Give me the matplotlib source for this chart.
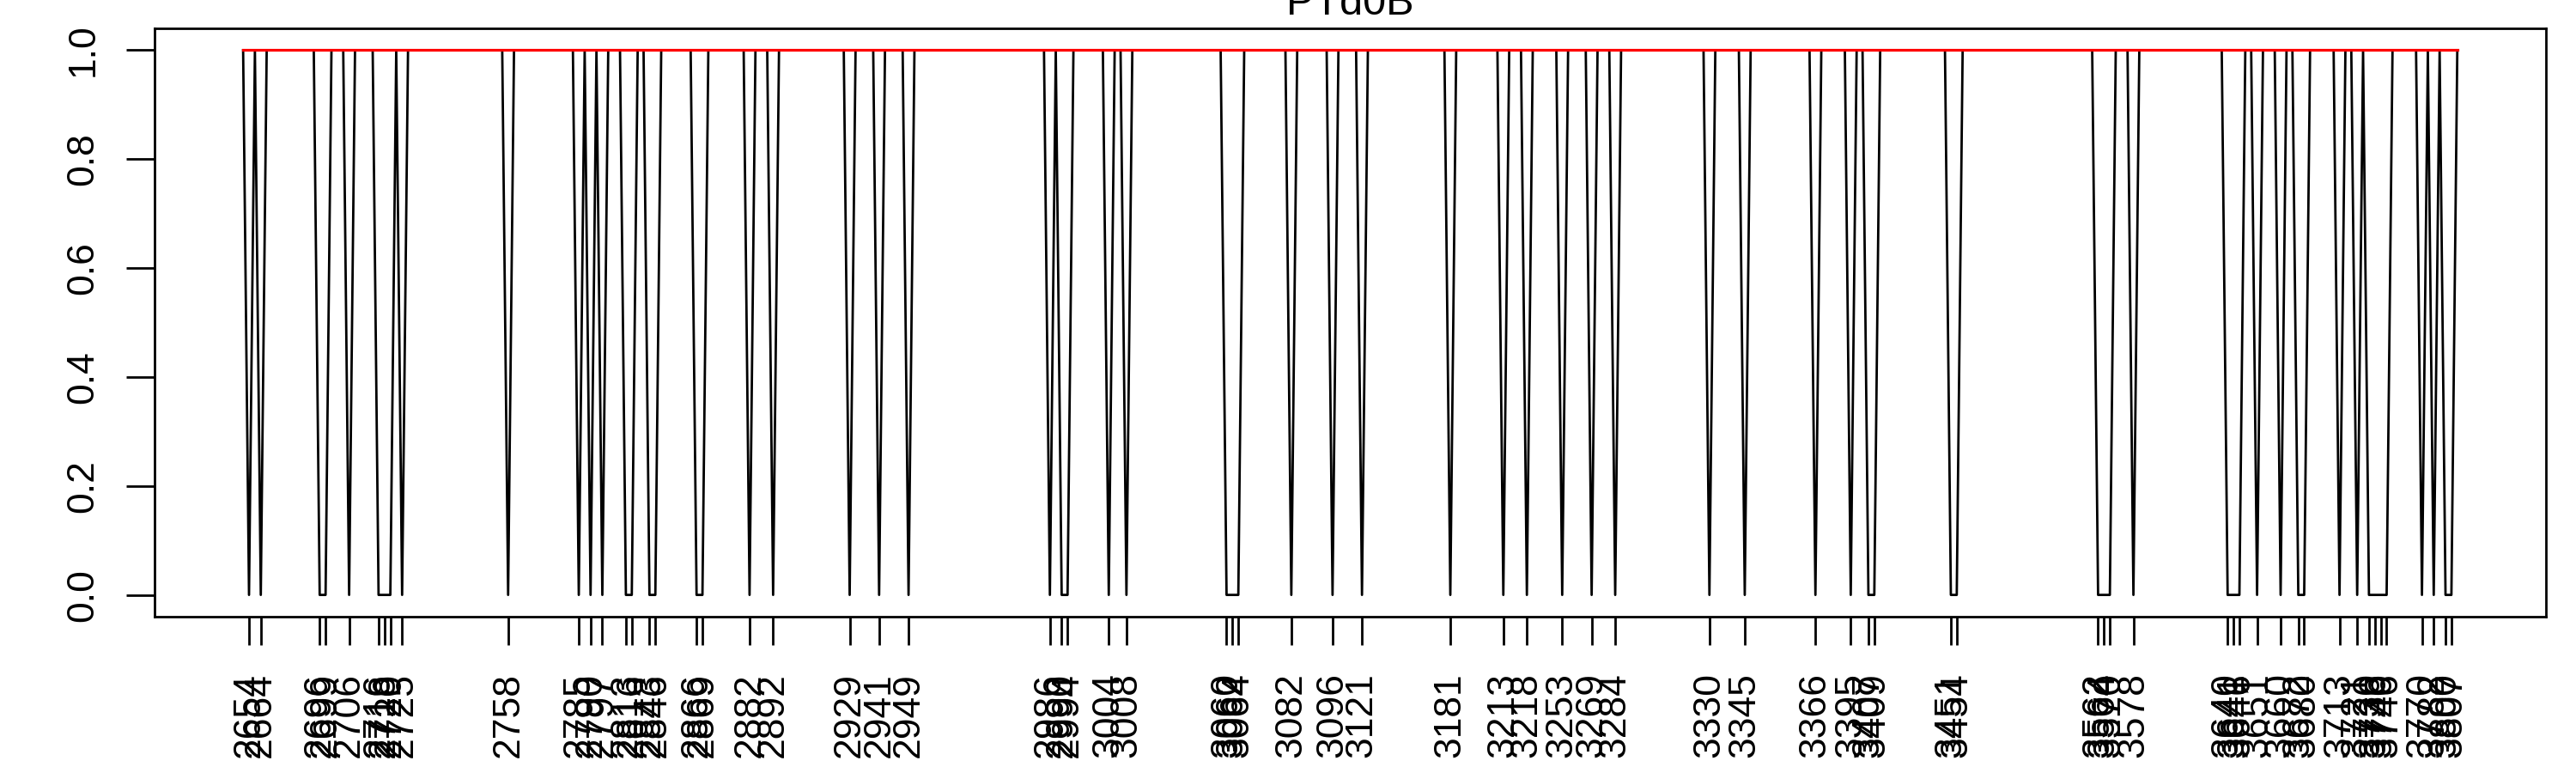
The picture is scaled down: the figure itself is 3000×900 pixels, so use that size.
"""Binary presence track, redrawn in the style of an R base plot."""

import numpy as np
import matplotlib
matplotlib.use('Agg')
import matplotlib.pyplot as plt

# data: the series is 1 everywhere except at the listed (1-based) indices
n_points = 377
zero_idx = [2, 4, 14, 15, 19, 24, 25, 26, 28, 46, 58, 60, 62, 66, 67, 70, 71, 78, 79, 87, 91,
            104, 109, 114, 138, 140, 141, 148, 151, 168, 169, 170, 179, 186, 191,
            206, 215, 219, 225, 230, 234, 250, 256, 268, 274, 277, 278, 291, 292,
            316, 317, 318, 322, 338, 339, 340, 343, 347, 350, 351,
            357, 360, 362, 363, 364, 365, 371, 373, 375, 376]
zero_labels = [2654, 2664, 2696, 2699, 2706, 2716, 2718, 2720, 2725, 2758, 2785, 2790, 2797,
               2813, 2816, 2843, 2846, 2866, 2869, 2882, 2892,
               2929, 2941, 2949, 2986, 2990, 2994, 3004, 3008, 3060, 3062, 3064, 3082, 3096, 3121,
               3181, 3213, 3218, 3253, 3269, 3284, 3330, 3345, 3366, 3395, 3407, 3409, 3451, 3454,
               3562, 3564, 3570, 3578, 3640, 3641, 3646, 3651, 3660, 3672, 3680,
               3713, 3721, 3730, 3736, 3740, 3746, 3770, 3782, 3800, 3807]
y_ticks = [0.0, 0.2, 0.4, 0.6, 0.8, 1.0]
title = 'PTd0B'

values = np.ones(n_points)
values[np.array(zero_idx) - 1] = 0
x = np.arange(1, n_points + 1)

plt.rcParams['font.family'] = ['Liberation Sans', 'DejaVu Sans']

fig = plt.figure(figsize=(30, 9), dpi=100)
ax = fig.add_axes([0.06, 0.2022, 0.9283, 0.7611])

ax.plot(x, values, color='black', lw=2.0)
ax.plot(x, np.ones(n_points), color='red', lw=2.3)

# R style 4% padding
pad_x = 0.04 * (n_points - 1)
ax.set_xlim(1 - pad_x, n_points + pad_x)
ax.set_ylim(-0.04, 1.04)

ax.set_xticks(zero_idx)
ax.set_xticklabels([str(v) for v in zero_labels], rotation=90)
ax.set_yticks(y_ticks)
ax.set_yticklabels([f'{v:.1f}' for v in y_ticks], rotation=90, va='center')

ax.tick_params(axis='both', length=24, width=2.0, labelsize=32)
ax.tick_params(axis='x', pad=23)
ax.tick_params(axis='y', pad=21)
for spine in ax.spines.values():
    spine.set_linewidth(2.0)

# title sits mostly above the canvas, as in the original
fig.text(0.06 + 0.9283 / 2, 1 - 17 / 900, title, ha='center', va='baseline', fontsize=35)

fig.savefig('out.png', dpi=100)
